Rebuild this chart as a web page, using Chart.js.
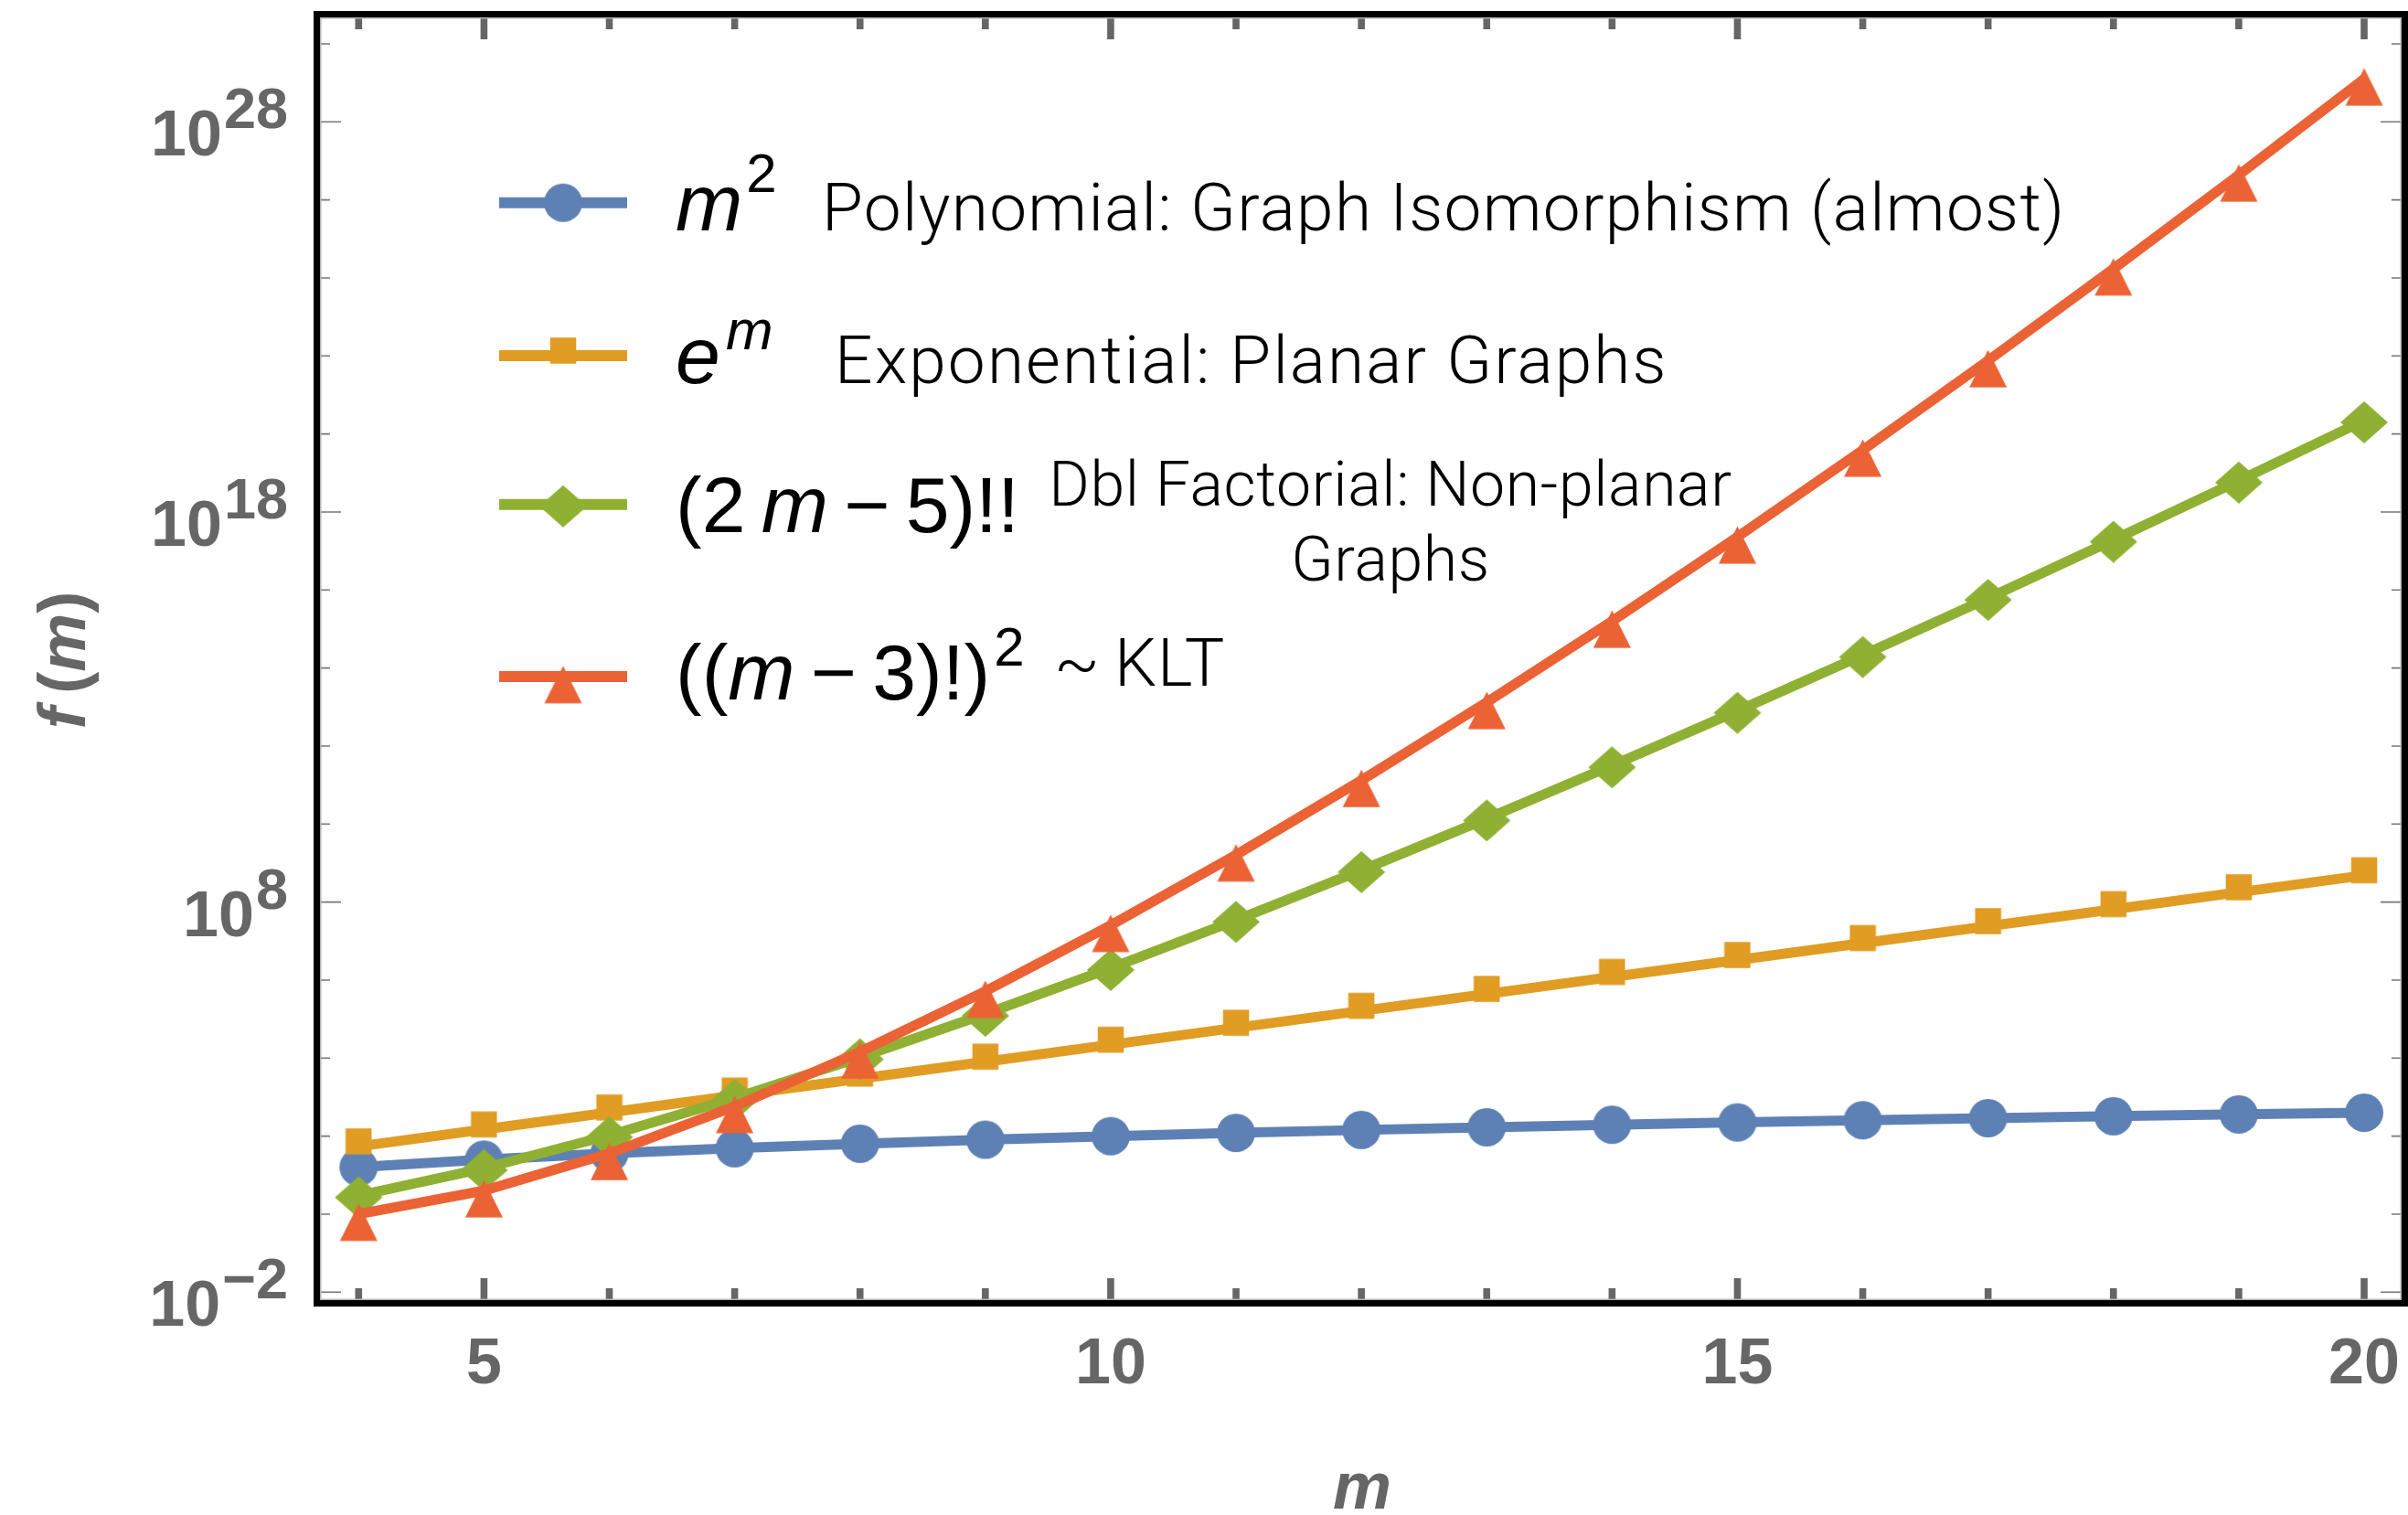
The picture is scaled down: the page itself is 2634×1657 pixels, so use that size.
<!DOCTYPE html>
<html><head><meta charset="utf-8">
<script src="https://cdn.jsdelivr.net/npm/chart.js@4.4.1/dist/chart.umd.min.js"></script>
<style>html,body{margin:0;padding:0;background:#fff;overflow:hidden}canvas{display:block}</style>
</head><body>
<canvas id="c" width="2634" height="1657"></canvas>
<script>
// ---------------- data ----------------
const mValues = [4,5,6,7,8,9,10,11,12,13,14,15,16,17,18,19,20];
const polyValues = [16,25,36,49,64,81,100,121,144,169,196,225,256,289,324,361,400];
const expValues = [54.6,148.4,403.4,1096.6,2981,8103,22026,59874,162755,442413,1202604,3269017,8886111,24154953,65659969,178482301,485165195];
const dblFactValues = [3,15,105,945,10395,135135,2027025,34459425,654729075,13749310575,316234143225,7.9058536e12,2.1345805e14,6.1902834e15,1.9189878e17,6.3326599e18,2.2164310e20];
const kltValues = [1,4,36,576,14400,518400,25401600,1625702400,131681894400,1.3168189e13,1.5933509e15,2.2944253e17,3.8775788e19,7.6000545e21,1.7100123e24,4.3776313e26,1.2651363e29];
const xMajorTicks = [5,10,15,20];
const xTickLabels = ['5','10','15','20'];
const xMinorTicks = [4,5,6,7,8,9,10,11,12,13,14,15,16,17,18,19,20];
const yMajorExponents = [-2,8,18,28];
const yTickExponentLabels = ['\u22122','8','18','28'];
const yMinorExponents = [-2,0,2,4,6,8,10,12,14,16,18,20,22,24,26,28,30];
const seriesColors = ['#5E81B5','#E19C24','#8FB032','#EB6235'];

// ---------------- markers ----------------
function makeMarker(shape, color){
  const c = document.createElement('canvas');
  let w, h;
  if (shape==='circle'){w=44;h=44;}
  else if (shape==='square'){w=30;h=42;}
  else if (shape==='diamond'){w=54;h=50;}
  else {w=43;h=61;}
  c.width=w;c.height=h;
  const g=c.getContext('2d');
  g.fillStyle=color;
  g.beginPath();
  if (shape==='circle'){ g.arc(22,22,21,0,Math.PI*2); }
  else if (shape==='square'){ g.rect(0.75,1.25,28.5,28.5); }
  else if (shape==='diamond'){ const cx=27,cy=27; g.moveTo(cx,cy-23);g.lineTo(cx+26,cy);g.lineTo(cx,cy+23);g.lineTo(cx-26,cy);g.closePath(); }
  else { g.moveTo(21.5,18.8);g.lineTo(42,59.8);g.lineTo(1,59.8);g.closePath(); }
  g.fill();
  return c;
}
const markers = [
  makeMarker('circle',seriesColors[0]),
  makeMarker('square',seriesColors[1]),
  makeMarker('diamond',seriesColors[2]),
  makeMarker('triangle',seriesColors[3])
];

const GRAY = '#666666';
const TICKFONT = 'bold 70px "Liberation Sans", Arial, sans-serif';
const SUPFONT = 'bold 63px "Liberation Sans", Arial, sans-serif';
const MATH = '86px "Liberation Sans", Arial, sans-serif';
const MATHI = 'italic 88px "Liberation Sans", Arial, sans-serif';
const MSUP = '60px "Liberation Sans", Arial, sans-serif';
const MSUPI = 'italic 62px "Liberation Sans", Arial, sans-serif';
const DESC = '300 73px Roboto, "Liberation Sans", sans-serif';
const DESC3 = '300 68px Roboto, "Liberation Sans", sans-serif';

function runs(ctx, x, y, list){
  for (const r of list){
    ctx.font=r.f; ctx.fillStyle=r.c||'#000';
    ctx.fillText(r.t, x+(r.dx||0), y+(r.dy||0));
    x += ctx.measureText(r.t).width + (r.dx||0);
  }
  return x;
}

const legendRows = [
  {cy:221.7, parts:[{t:'m',f:MATHI},{t:'2',f:MSUP,dy:-42,dx:4}], base:252,
   desc:['Polynomial: Graph Isomorphism (almost)'], dx:[899], dy:[252], font:DESC, ls:1.3},
  {cy:389, parts:[{t:'e',f:MATHI},{t:'m',f:MSUPI,dy:-37,dx:6}], base:419,
   desc:['Exponential: Planar Graphs'], dx:[913], dy:[419], font:DESC, ls:2.1},
  {cy:551.7, parts:[{t:'(2\u2009',f:MATH},{t:'m',f:MATHI},{t:'\u2009\u2212\u20095)!!',f:MATH}], base:582,
   desc:['Dbl Factorial: Non-planar','Graphs'], center:1521, dy:[553,635], font:DESC3, ls:0.6},
  {cy:740, parts:[{t:'((',f:MATH},{t:'m',f:MATHI},{t:'\u2009\u2212\u20093)!)',f:MATH},{t:'2',f:MSUP,dy:-37,dx:4}], base:765,
   desc:['~','KLT'], dx:[1153,1219], dy:[750,750], font:DESC, ls:1.0}
];

const framePlugin = {
  id:'framePlugin',
  afterDraw(chart){
    const ctx=chart.ctx, a=chart.chartArea, xs=chart.scales.x, ys=chart.scales.y;
    ctx.save();
    // ticks x
    ctx.fillStyle=GRAY;
    for (const v of xMinorTicks){
      const px=xs.getPixelForValue(v);
      const len = xMajorTicks.includes(v)?24:13;
      ctx.fillRect(px-3.8,a.bottom-len,7.6,len);
      ctx.fillRect(px-3.8,a.top,7.6,len);
    }
    // ticks y
    ctx.strokeStyle='#777';ctx.lineWidth=1.6;
    for (const e of yMinorExponents){
      const py=ys.getPixelForValue(Math.pow(10,e));
      if (py<a.top||py>a.bottom) continue;
      const len = yMajorExponents.includes(e)?23:11;
      ctx.beginPath();
      ctx.moveTo(a.left,py);ctx.lineTo(a.left+len,py);
      ctx.moveTo(a.right,py);ctx.lineTo(a.right-len,py);
      ctx.stroke();
    }
    // inner gray line
    ctx.strokeStyle='#b0b0b0';ctx.lineWidth=1.5;
    ctx.strokeRect(a.left+0.75,a.top+0.75,a.right-a.left-1.5,a.bottom-a.top-1.5);
    // frame
    ctx.strokeStyle='#000';ctx.lineWidth=7;
    ctx.strokeRect(a.left-3.5,a.top-3.5,a.right-a.left+7,a.bottom-a.top+7);
    // x tick labels
    ctx.fillStyle=GRAY;ctx.font=TICKFONT;ctx.textAlign='center';ctx.textBaseline='alphabetic';
    xMajorTicks.forEach((v,i)=>{ ctx.fillText(xTickLabels[i], xs.getPixelForValue(v), 1513); });
    // y tick labels
    ctx.textAlign='left';
    yMajorExponents.forEach((e,i)=>{
      const py=ys.getPixelForValue(Math.pow(10,e));
      ctx.font=TICKFONT; const w10=ctx.measureText('10').width;
      ctx.font=SUPFONT; const we=ctx.measureText(yTickExponentLabels[i]).width;
      const x0=315-(w10+2+we);
      ctx.font=TICKFONT; ctx.fillText('10',x0,py+37);
      ctx.font=SUPFONT; ctx.fillText(yTickExponentLabels[i],x0+w10+2,py+7);
    });
    // axis titles
    ctx.font='bold italic 72px "Liberation Sans", Arial, sans-serif';ctx.textAlign='center';
    ctx.fillText('m',1490,1650);
    ctx.save();
    ctx.translate(93,722);ctx.rotate(-Math.PI/2);ctx.textAlign='left';
    const yt=[{t:'f',f:'bold italic 72px "Liberation Sans", Arial, sans-serif',c:GRAY},{t:'\u2009(',f:'bold 72px "Liberation Sans", Arial, sans-serif',c:GRAY},{t:'m',f:'bold italic 72px "Liberation Sans", Arial, sans-serif',c:GRAY},{t:')',f:'bold 72px "Liberation Sans", Arial, sans-serif',c:GRAY}];
    let tw=0; for(const r of yt){ctx.font=r.f;tw+=ctx.measureText(r.t).width;}
    runs(ctx,-tw/2,0,yt);
    ctx.restore();
    // legend
    ctx.textAlign='left';
    legendRows.forEach((row,i)=>{
      ctx.strokeStyle=seriesColors[i];ctx.lineWidth=12;ctx.lineCap='butt';
      ctx.beginPath();ctx.moveTo(546,row.cy);ctx.lineTo(686,row.cy);ctx.stroke();
      const mk=markers[i];
      ctx.drawImage(mk,616-mk.width/2,row.cy-mk.height/2);
      ctx.letterSpacing='0px';
      runs(ctx,739,row.base,row.parts);
      ctx.font=row.font;ctx.fillStyle='#000';
      ctx.letterSpacing=row.ls+'px';
      row.desc.forEach((d,j)=>{
        if (row.center){ ctx.textAlign='center'; ctx.fillText(d,row.center,row.dy[j]); ctx.textAlign='left'; }
        else ctx.fillText(d,row.dx[j],row.dy[j]);
      });
      ctx.letterSpacing='0px';
    });
    ctx.restore();
  }
};

const seriesList = [polyValues, expValues, dblFactValues, kltValues];
const seriesNames = ['m^2','e^m','(2m-5)!!','((m-3)!)^2'];
const datasets = seriesList.map((vals,i)=>({
  label: seriesNames[i],
  data: mValues.map((m,k)=>({x:m,y:vals[k]})),
  borderColor: seriesColors[i],
  backgroundColor: seriesColors[i],
  borderWidth: 11,
  borderJoinStyle: 'round',
  tension: 0,
  pointStyle: markers[i],
  pointRadius: 20,
  pointHoverRadius: 20,
  order: 4-i
}));

new Chart(document.getElementById('c'), {
  type:'line',
  data:{datasets},
  options:{
    responsive:false, animation:false, devicePixelRatio:1,
    layout:{autoPadding:false, padding:{left:350,right:7,top:19,bottom:235}},
    plugins:{legend:{display:false},tooltip:{enabled:false}},
    events:[],
    scales:{
      x:{type:'linear',display:false,min:3.6915,max:20.299,bounds:'data'},
      y:{type:'logarithmic',display:false,min:Math.pow(10,-2.204),max:Math.pow(10,30.679),bounds:'data'}
    }
  },
  plugins:[framePlugin]
});
</script>
</body></html>
